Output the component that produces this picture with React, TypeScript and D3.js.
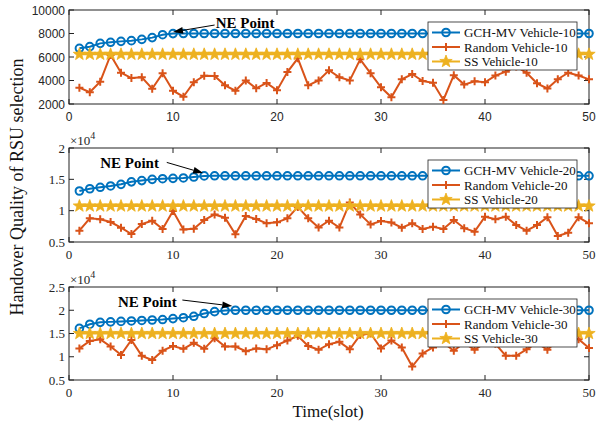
import * as d3 from "d3";

// Time slots 1..50
const slots = [
  1, 2, 3, 4, 5, 6, 7, 8, 9, 10, 11, 12, 13, 14, 15, 16, 17, 18, 19, 20, 21, 22, 23, 24, 25,
  26, 27, 28, 29, 30, 31, 32, 33, 34, 35, 36, 37, 38, 39, 40, 41, 42, 43, 44, 45, 46, 47, 48, 49, 50,
];

// Vehicle-10 (raw values)
const gch10 = [
  6740, 6880, 7160, 7250, 7330, 7390, 7500, 7650, 7900, 7990, 8000, 8000, 8000, 8000, 8000, 8000, 8000,
  8000, 8000, 8000, 8000, 8000, 8000, 8000, 8000, 8000, 8000, 8000, 8000, 8000, 8000, 8000, 8000, 8000,
  8000, 8000, 8000, 8000, 8000, 8000, 8000, 8000, 8000, 8000, 8000, 8000, 8000, 8000, 8000, 8000,
];
const rand10 = [
  3390, 3000, 3900, 6170, 4660, 4210, 4270, 3300, 4610, 3130, 2620, 3850, 4410, 4380, 3590, 3130, 4010,
  3330, 3790, 3160, 4720, 5890, 3590, 4010, 4870, 4270, 4010, 5800, 4610, 3420, 2570, 4100, 4550, 3950,
  3800, 2340, 4450, 3650, 3940, 3850, 4420, 4750, 5200, 4650, 3760, 3320, 4110, 4660, 4420, 4100,
];
const ss10 = [
  6230, 6230, 6230, 6230, 6230, 6230, 6230, 6230, 6230, 6230, 6230, 6230, 6230, 6230, 6230, 6230, 6230,
  6230, 6230, 6230, 6230, 6230, 6230, 6230, 6230, 6230, 6230, 6230, 6230, 6230, 6230, 6230, 6230, 6230,
  6230, 6230, 6230, 6230, 6230, 6230, 6230, 6230, 6230, 6230, 6230, 6230, 6230, 6230, 6230, 6230,
];

// Vehicle-20 (x 10^4)
const gch20 = [
  1.314, 1.35, 1.373, 1.394, 1.42, 1.46, 1.48, 1.5, 1.51, 1.516, 1.522, 1.537, 1.555, 1.556, 1.556,
  1.556, 1.556, 1.556, 1.556, 1.556, 1.556, 1.556, 1.556, 1.556, 1.556, 1.556, 1.556, 1.556, 1.556,
  1.556, 1.556, 1.556, 1.556, 1.556, 1.556, 1.556, 1.556, 1.556, 1.556, 1.556, 1.556, 1.556, 1.556,
  1.556, 1.556, 1.556, 1.556, 1.556, 1.556, 1.556,
];
const rand20 = [
  0.68, 0.878, 0.862, 0.819, 0.728, 0.627, 0.787, 0.84, 0.707, 0.995, 0.7, 0.712, 0.85, 0.94, 0.888,
  0.622, 0.915, 0.867, 0.798, 0.814, 0.878, 1.06, 0.88, 0.73, 0.84, 0.73, 1.13, 0.94, 0.78, 0.835,
  0.81, 0.728, 0.798, 0.707, 0.744, 0.707, 0.85, 0.72, 0.665, 0.904, 0.862, 0.904, 0.77, 0.68, 0.77,
  0.894, 0.595, 0.648, 0.894, 0.798,
];
const ss20 = [
  1.074, 1.074, 1.074, 1.074, 1.074, 1.074, 1.074, 1.074, 1.074, 1.074, 1.074, 1.074, 1.074, 1.074,
  1.074, 1.074, 1.074, 1.074, 1.074, 1.074, 1.074, 1.074, 1.074, 1.074, 1.074, 1.074, 1.074, 1.074,
  1.074, 1.074, 1.074, 1.074, 1.074, 1.074, 1.074, 1.074, 1.074, 1.074, 1.074, 1.074, 1.074, 1.074,
  1.074, 1.074, 1.074, 1.074, 1.074, 1.074, 1.074, 1.074,
];

// Vehicle-30 (x 10^4)
const gch30 = [
  1.61, 1.7, 1.74, 1.75, 1.76, 1.77, 1.78, 1.79, 1.8, 1.82, 1.84, 1.87, 1.93, 1.97, 1.995, 2.0, 2.0,
  2.0, 2.0, 2.0, 2.0, 2.0, 2.0, 2.0, 2.0, 2.0, 2.0, 2.0, 2.0, 2.0, 2.0, 2.0, 2.0, 2.0, 2.0, 2.0, 2.0,
  2.0, 2.0, 2.0, 2.0, 2.0, 2.0, 2.0, 2.0, 2.0, 2.0, 2.0, 2.0, 2.0,
];
const rand30 = [
  1.18, 1.34, 1.375, 1.22, 1.04, 1.36, 1.02, 0.93, 1.13, 1.23, 1.17, 1.3, 1.17, 1.4, 1.22, 1.22, 1.12,
  1.18, 1.16, 1.25, 1.35, 1.45, 1.23, 1.15, 1.27, 1.32, 1.16, 1.47, 1.5, 1.18, 1.35, 1.2, 0.79, 1.07,
  1.2, 1.3, 1.13, 1.3, 1.15, 1.3, 1.28, 1.02, 1.02, 1.16, 1.3, 1.15, 1.35, 1.4, 1.375, 1.19,
];
const ss30 = [
  1.5, 1.5, 1.5, 1.5, 1.5, 1.5, 1.5, 1.5, 1.5, 1.5, 1.5, 1.5, 1.5, 1.5, 1.5, 1.5, 1.5, 1.5, 1.5, 1.5,
  1.5, 1.5, 1.5, 1.5, 1.5, 1.5, 1.5, 1.5, 1.5, 1.5, 1.5, 1.5, 1.5, 1.5, 1.5, 1.5, 1.5, 1.5, 1.5, 1.5,
  1.5, 1.5, 1.5, 1.5, 1.5, 1.5, 1.5, 1.5, 1.5, 1.5,
];

const xTicks = [0, 10, 20, 30, 40, 50];
const yTicks10 = [2000, 4000, 6000, 8000, 10000];
const yTicks20 = [0.5, 1, 1.5, 2];
const yTicks30 = [0.5, 1, 1.5, 2, 2.5];

const COLORS = { gch: "#0072BD", rand: "#D95319", ss: "#EDB120" };
const SERIF = "'Liberation Serif', 'Times New Roman', serif";
const SANS = "'Liberation Sans', Arial, sans-serif";

const panels = [
  {
    vehicles: 10, top: 10, bottom: 104, domain: [2000, 10000], ticks: yTicks10,
    gch: gch10, rand: rand10, ss: ss10, tickFont: SANS, tickSize: 12, exponent: false,
    note: { tx: 14.1, ty: 8890, fx: 14.0, fy: 8720, hx: 10, hy: 8130 },
  },
  {
    vehicles: 20, top: 148, bottom: 242, domain: [0.5, 2], ticks: yTicks20,
    gch: gch20, rand: rand20, ss: ss20, tickFont: SERIF, tickSize: 13, exponent: true,
    note: { tx: 3.0, ty: 1.76, fx: 9.4, fy: 1.77, hx: 12.9, hy: 1.6 },
  },
  {
    vehicles: 30, top: 287, bottom: 380, domain: [0.5, 2.5], ticks: yTicks30,
    gch: gch30, rand: rand30, ss: ss30, tickFont: SERIF, tickSize: 13, exponent: true,
    note: { tx: 4.7, ty: 2.18, fx: 10.9, fy: 2.22, hx: 15.7, hy: 2.09 },
  },
];

const LEFT = 69;
const RIGHT = 589;

function starPath(cx: number, cy: number, R: number, r: number) {
  const pts: string[] = [];
  for (let i = 0; i < 10; i++) {
    const a = -Math.PI / 2 + (i * Math.PI) / 5;
    const rad = i % 2 === 0 ? R : r;
    pts.push(`${cx + rad * Math.cos(a)},${cy + rad * Math.sin(a)}`);
  }
  return `M${pts.join("L")}Z`;
}

function Marker({ kind, x, y }: { kind: string; x: number; y: number }) {
  if (kind === "gch")
    return <circle cx={x} cy={y} r={3.8} fill="none" stroke={COLORS.gch} strokeWidth={2} />;
  if (kind === "rand")
    return (
      <path
        d={`M${x - 4},${y}H${x + 4}M${x},${y - 4}V${y + 4}`}
        stroke={COLORS.rand}
        strokeWidth={2}
      />
    );
  return <path d={starPath(x, y, 6.5, 2.7)} fill={COLORS.ss} stroke={COLORS.ss} strokeWidth={0.8} />;
}

function Panel({ p }: { p: (typeof panels)[number] }) {
  const x = d3.scaleLinear().domain([0, 50]).range([LEFT, RIGHT]);
  const y = d3.scaleLinear().domain(p.domain).range([p.bottom, p.top]);
  const line = (vals: number[]) =>
    d3.line<number>().x((_, i) => x(slots[i])).y((v) => y(v))(vals) ?? "";

  const series = [
    { kind: "gch", vals: p.gch, name: `GCH-MV Vehicle-${p.vehicles}` },
    { kind: "rand", vals: p.rand, name: `Random Vehicle-${p.vehicles}` },
    { kind: "ss", vals: p.ss, name: `SS Vehicle-${p.vehicles}` },
  ];

  const n = p.note;
  const hx = x(n.hx), hy = y(n.hy), fx = x(n.fx), fy = y(n.fy);
  const ang = Math.atan2(hy - fy, hx - fx);
  const hl = 10, hw = 3.5;
  const bx = hx - hl * Math.cos(ang), by = hy - hl * Math.sin(ang);
  const head = `M${hx},${hy}L${bx + hw * Math.sin(ang)},${by - hw * Math.cos(ang)}L${bx - hw * Math.sin(ang)},${by + hw * Math.cos(ang)}Z`;

  const lgX = 428, lgY = p.top + 12, lgW = 149, lgH = 48;

  return (
    <g>
      {/* axes box */}
      <rect x={LEFT} y={p.top} width={RIGHT - LEFT} height={p.bottom - p.top} fill="white" stroke="#222" strokeWidth={1} />
      {xTicks.map((t) => (
        <g key={`x${t}`}>
          <line x1={x(t)} x2={x(t)} y1={p.bottom} y2={p.bottom - 5} stroke="#222" />
          <line x1={x(t)} x2={x(t)} y1={p.top} y2={p.top + 5} stroke="#222" />
          <text x={x(t)} y={p.bottom + 17} textAnchor="middle" fontFamily={p.tickFont} fontSize={p.tickSize} fill="#262626">
            {t}
          </text>
        </g>
      ))}
      {p.ticks.map((t) => (
        <g key={`y${t}`}>
          <line x1={LEFT} x2={LEFT + 5} y1={y(t)} y2={y(t)} stroke="#222" />
          <line x1={RIGHT} x2={RIGHT - 5} y1={y(t)} y2={y(t)} stroke="#222" />
          <text x={LEFT - 4} y={y(t) + 4.5} textAnchor="end" fontFamily={p.tickFont} fontSize={p.tickSize} fill="#262626">
            {t}
          </text>
        </g>
      ))}
      {p.exponent && (
        <text x={LEFT + 1} y={p.top - 3} fontFamily={SERIF} fontSize={13} fill="#262626">
          ×10<tspan dy={-6} fontSize={10}>4</tspan>
        </text>
      )}

      {/* series */}
      {series.map((s) => (
        <g key={s.kind}>
          <path d={line(s.vals)} fill="none" stroke={COLORS[s.kind as keyof typeof COLORS]} strokeWidth={2} />
          {s.vals.map((v, i) => (
            <Marker key={i} kind={s.kind} x={x(slots[i])} y={y(v)} />
          ))}
        </g>
      ))}

      {/* legend */}
      <rect x={lgX} y={lgY} width={lgW} height={lgH} fill="white" stroke="#222" strokeWidth={0.8} />
      {series.map((s, i) => {
        const ry = lgY + 10.5 + i * 14.5;
        return (
          <g key={`lg${s.kind}`}>
            <line x1={lgX + 4} x2={lgX + 32} y1={ry} y2={ry} stroke={COLORS[s.kind as keyof typeof COLORS]} strokeWidth={2} />
            <Marker kind={s.kind} x={lgX + 18} y={ry} />
            <text x={lgX + 36} y={ry + 4.5} fontFamily={SERIF} fontSize={13} fill="#111">
              {s.name}
            </text>
          </g>
        );
      })}

      {/* annotation */}
      <text x={x(n.tx)} y={y(n.ty) + 5} fontFamily={SERIF} fontWeight="bold" fontSize={15} fill="#000">
        NE Point
      </text>
      <line x1={fx} y1={fy} x2={bx} y2={by} stroke="#000" strokeWidth={1} />
      <path d={head} fill="#000" />
    </g>
  );
}

export default function App() {
  return (
    <svg width={599} height={427} style={{ position: "absolute", left: 0, top: 0, background: "white" }}>
      {panels.map((p) => (
        <Panel key={p.vehicles} p={p} />
      ))}
      <text
        transform="translate(23,187) rotate(-90)"
        textAnchor="middle"
        fontFamily={SERIF}
        fontSize={18}
        fill="#111"
      >
        Handover Quality of RSU selection
      </text>
      <text x={328} y={417} textAnchor="middle" fontFamily={SERIF} fontSize={17} fill="#111">
        Time(slot)
      </text>
    </svg>
  );
}
